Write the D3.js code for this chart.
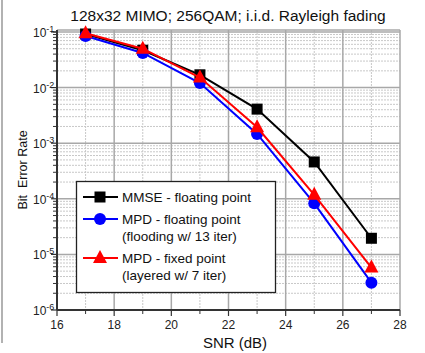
<!DOCTYPE html>
<html>
<head>
<meta charset="utf-8">
<script src="https://cdn.jsdelivr.net/npm/d3@7"></script>
<style>
  html, body { margin: 0; padding: 0; background: #fff; }
  svg { display: block; font-family: "Liberation Sans", Arial, sans-serif; }
</style>
</head>
<body>
<svg id="chart" width="425" height="353"></svg>
<script>
/* data */
const snr = [17, 19, 21, 23, 25, 27]
const mmseFloat = [0.092, 0.047, 0.017, 0.0041, 0.00046, 0.0000195]
const mpdFloat = [0.085, 0.042, 0.0121, 0.00147, 0.000083, 0.0000031]
const mpdFixed = [0.095, 0.05, 0.0152, 0.00193, 0.000118, 0.0000058]
const xTicks = [16, 18, 20, 22, 24, 26, 28]
const xMinor = [17, 19, 21, 23, 25, 27]
const yDecades = [-6, -5, -4, -3, -2, -1]

const series = [
  { name: "MMSE - floating point", sub: null, color: "#000", shape: "square", values: mmseFloat },
  { name: "MPD - floating point", sub: "(flooding w/ 13 iter)", color: "#0000ff", shape: "circle", values: mpdFloat },
  { name: "MPD - fixed point", sub: "(layered w/ 7 iter)", color: "#ff0000", shape: "triangle", values: mpdFixed }
]

/* plot box */
const width = 425
const marginLeft = 57
const marginRight = 25
const marginTop = 30
const plotBottom = 310

const svg = d3.select("#chart")

const x = d3.scaleLinear([16, 28], [marginLeft, width - marginRight])
const y = d3.scaleLog([1e-6, 0.1086], [plotBottom, marginTop])

/* frame line on the left of the image */
svg.append("line")
.attr("x1", 2).attr("x2", 2).attr("y1", 0).attr("y2", 343)
.attr("stroke", "#999").attr("stroke-width", 1.5)

/* grid */
const minorY = []
for (let e = -6; e < -1; e++) {
  for (let m = 2; m <= 9; m++) minorY.push(m * Math.pow(10, e))
}

const grid = svg.append("g")

grid.selectAll(".ymin")
.data(minorY)
.join("line")
.attr("x1", marginLeft).attr("x2", width - marginRight)
.attr("y1", d => y(d)).attr("y2", d => y(d))
.attr("stroke", "#c8c8c8")
.attr("stroke-dasharray", "2,1")

grid.selectAll(".xmin")
.data(xMinor)
.join("line")
.attr("x1", d => x(d)).attr("x2", d => x(d))
.attr("y1", marginTop).attr("y2", plotBottom)
.attr("stroke", "#c8c8c8")
.attr("stroke-dasharray", "2,1")

grid.selectAll(".ymaj")
.data(yDecades)
.join("line")
.attr("x1", marginLeft).attr("x2", width - marginRight)
.attr("y1", d => y(Math.pow(10, d))).attr("y2", d => y(Math.pow(10, d)))
.attr("stroke", "#a8a8a8")
.attr("stroke-width", 1.5)

grid.selectAll(".xmaj")
.data(xTicks)
.join("line")
.attr("x1", d => x(d)).attr("x2", d => x(d))
.attr("y1", marginTop).attr("y2", plotBottom)
.attr("stroke", "#a8a8a8")
.attr("stroke-width", 1.5)

/* top border */
grid.append("line")
.attr("x1", marginLeft).attr("x2", width - marginRight)
.attr("y1", marginTop).attr("y2", marginTop)
.attr("stroke", "#a8a8a8")
.attr("stroke-width", 1.5)

/* x axis */
const xAxis = svg.append("g")
xAxis.append("line")
.attr("x1", marginLeft).attr("x2", width - marginRight)
.attr("y1", plotBottom).attr("y2", plotBottom)
.attr("stroke", "#333").attr("stroke-width", 2)
xAxis.selectAll(".tk")
.data(xTicks)
.join("line")
.attr("x1", d => x(d)).attr("x2", d => x(d))
.attr("y1", plotBottom).attr("y2", plotBottom + 6)
.attr("stroke", "#333").attr("stroke-width", 1.2)
xAxis.selectAll(".tkm")
.data(xMinor)
.join("line")
.attr("x1", d => x(d)).attr("x2", d => x(d))
.attr("y1", plotBottom).attr("y2", plotBottom + 4)
.attr("stroke", "#333").attr("stroke-width", 1)
xAxis.selectAll("text")
.data(xTicks)
.join("text")
.attr("x", d => x(d)).attr("y", plotBottom + 19)
.attr("text-anchor", "middle")
.attr("font-size", 12)
.attr("fill", "#222")
.text(d => d)

/* y axis */
const yAxis = svg.append("g")
yAxis.append("line")
.attr("x1", marginLeft).attr("x2", marginLeft)
.attr("y1", marginTop).attr("y2", plotBottom)
.attr("stroke", "#333").attr("stroke-width", 2)
yAxis.selectAll(".tkm")
.data(minorY.concat([0.1 * 1.0]))
.join("line")
.attr("x1", marginLeft - 4).attr("x2", marginLeft)
.attr("y1", d => y(d)).attr("y2", d => y(d))
.attr("stroke", "#333").attr("stroke-width", 1)
yAxis.selectAll(".tk")
.data(yDecades)
.join("line")
.attr("x1", marginLeft - 6).attr("x2", marginLeft)
.attr("y1", d => y(Math.pow(10, d))).attr("y2", d => y(Math.pow(10, d)))
.attr("stroke", "#333").attr("stroke-width", 1.2)

const yLabels = yAxis.selectAll("text")
.data(yDecades)
.join("text")
.attr("x", 33).attr("y", d => y(Math.pow(10, d)) + 5)
.attr("font-size", 12)
.attr("fill", "#222")
yLabels.append("tspan").text("10")
yLabels.append("tspan")
.attr("font-size", 9)
.attr("dy", -5)
.text(d => d)

/* series */
const line = d3.line()
.x((d, i) => x(snr[i]))
.y(d => y(d))

function drawMarker(g, shape, color) {
  if (shape === "square") {
    g.append("rect").attr("x", -5.5).attr("y", -5.5).attr("width", 11).attr("height", 11).attr("fill", color)
  } else if (shape === "circle") {
    g.append("circle").attr("r", 6).attr("fill", color)
  } else {
    g.append("path").attr("d", "M0,-8L7,5L-7,5Z").attr("fill", color)
  }
}

for (let s of series) {
  const g = svg.append("g")
  g.append("path")
  .attr("fill", "none")
  .attr("stroke", s.color)
  .attr("stroke-width", 2)
  .attr("d", line(s.values))
  s.values.forEach((v, i) => {
    const m = g.append("g").attr("transform", `translate(${x(snr[i])},${y(v)})`)
    drawMarker(m, s.shape, s.color)
  })
}

/* legend */
const legend = svg.append("g")
legend.append("rect")
.attr("x", 76.5).attr("y", 181.5).attr("width", 199).attr("height", 111)
.attr("fill", "#fff").attr("stroke", "#222").attr("stroke-width", 1.3)

const legendRows = [197, 219, 258]
series.forEach((s, i) => {
  const ly = legendRows[i]
  const g = legend.append("g")
  g.append("line")
  .attr("x1", 83).attr("x2", 118).attr("y1", ly).attr("y2", ly)
  .attr("stroke", s.color).attr("stroke-width", 2)
  const m = g.append("g").attr("transform", `translate(100,${ly})`)
  drawMarker(m, s.shape, s.color)
  g.append("text")
  .attr("x", 122).attr("y", ly + 5)
  .attr("font-size", 13.5)
  .attr("fill", "#111")
  .text(s.name)
  if (s.sub) {
    g.append("text")
    .attr("x", 122).attr("y", ly + 22)
    .attr("font-size", 13.5)
    .attr("fill", "#111")
    .text(s.sub)
  }
})

/* titles */
svg.append("text")
.attr("x", 228).attr("y", 21)
.attr("text-anchor", "middle")
.attr("font-size", 15.5)
.attr("fill", "#111")
.text("128x32 MIMO; 256QAM; i.i.d. Rayleigh fading")

svg.append("text")
.attr("x", 235).attr("y", 348)
.attr("text-anchor", "middle")
.attr("font-size", 15)
.attr("fill", "#111")
.text("SNR (dB)")

svg.append("text")
.attr("transform", `translate(27,170) rotate(-90)`)
.attr("text-anchor", "middle")
.attr("font-size", 12.5)
.attr("fill", "#111")
.attr("xml:space", "preserve")
.style("white-space", "pre")
.text("Bit  Error Rate")
</script>
</body>
</html>
